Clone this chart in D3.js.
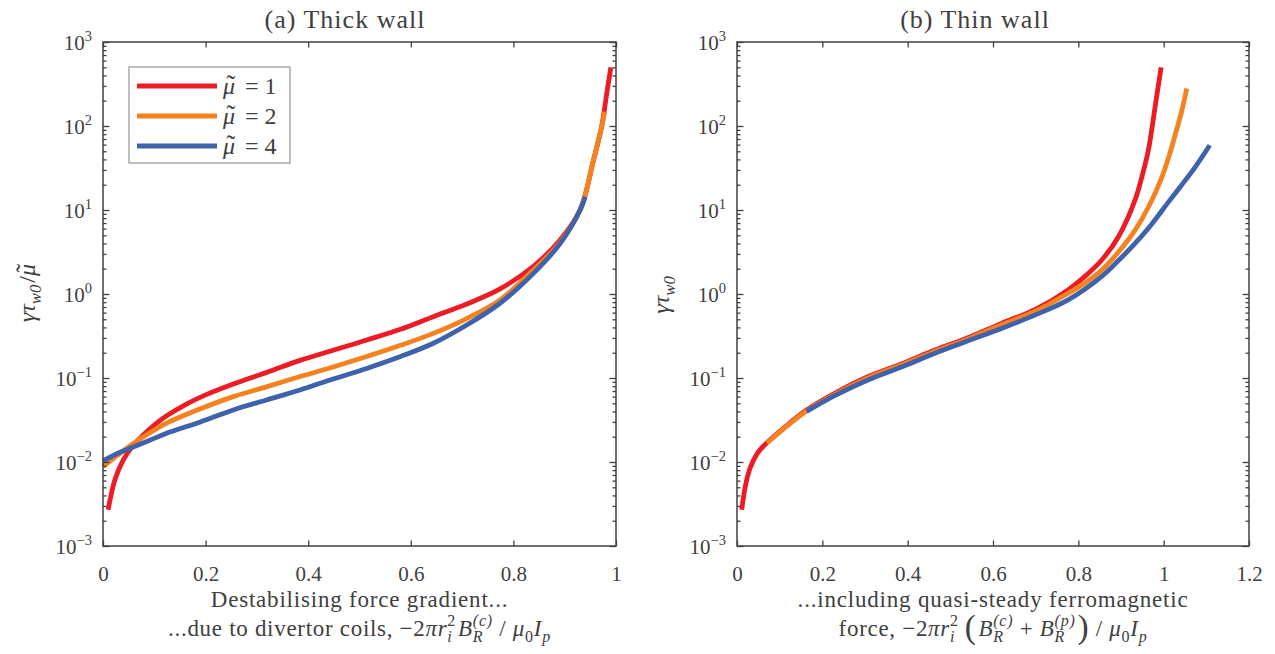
<!DOCTYPE html>
<html>
<head>
<meta charset="utf-8">
<script src="https://cdn.jsdelivr.net/npm/d3@7"></script>
<style>
  body { margin: 0; background: #fff; }
  text { font-family: "Liberation Serif", serif; fill: #404040; }
</style>
</head>
<body>
<script>
// ---- data: [x, growth rate] ----
var thickMu1 = [[0.01,0.0027],[0.0136,0.0035],[0.0234,0.0062],[0.0396,0.0106],[0.059,0.0158],[0.08,0.0214],
  [0.104,0.0288],[0.124,0.0355],[0.16,0.048],[0.2,0.063],[0.254,0.085],[0.32,0.117],[0.384,0.162],
  [0.45,0.215],[0.514,0.283],[0.58,0.38],[0.644,0.537],[0.709,0.76],[0.774,1.15],[0.839,2.14],
  [0.891,4.4],[0.93,10],[0.956,39],[0.972,98],[0.982,245],[0.99,500]];
var thickMu2 = [[0,0.0088],[0.02,0.011],[0.059,0.0166],[0.09,0.022],[0.124,0.029],[0.19,0.043],
  [0.254,0.060],[0.32,0.079],[0.384,0.104],[0.45,0.136],[0.514,0.18],[0.58,0.245],[0.644,0.34],
  [0.709,0.51],[0.774,0.85],[0.839,1.93],[0.891,4.1],[0.93,10],[0.956,39],[0.972,98],[0.978,148]];
var thickMu4 = [[0,0.0103],[0.03,0.0128],[0.059,0.0151],[0.09,0.018],[0.124,0.022],[0.19,0.030],
  [0.254,0.0417],[0.32,0.055],[0.384,0.072],[0.45,0.098],[0.514,0.13],[0.58,0.18],[0.644,0.259],
  [0.709,0.427],[0.774,0.776],[0.839,1.76],[0.891,3.98],[0.93,10],[0.94,14.4]];

var thinMu1 = [[0.011,0.0027],[0.021,0.0056],[0.032,0.0088],[0.0477,0.0127],[0.07,0.017],[0.11,0.0255],
  [0.163,0.0415],[0.23,0.066],[0.308,0.104],[0.39,0.15],[0.464,0.215],[0.54,0.30],[0.62,0.447],
  [0.698,0.65],[0.776,1.12],[0.82,1.7],[0.855,2.54],[0.894,4.8],[0.933,13.2],[0.95,26],[0.964,51],
  [0.98,170],[0.994,500]];
var thinMu2 = [[0.07,0.0168],[0.11,0.025],[0.163,0.0405],[0.23,0.064],[0.308,0.101],[0.39,0.146],
  [0.464,0.208],[0.54,0.29],[0.62,0.43],[0.698,0.62],[0.776,1.02],[0.82,1.4],[0.855,1.93],
  [0.894,3.16],[0.933,5.75],[0.965,11],[0.995,24],[1.015,48],[1.03,89],[1.042,148],[1.054,280]];
var thinMu4 = [[0.163,0.040],[0.23,0.062],[0.308,0.0955],[0.39,0.138],[0.464,0.197],[0.54,0.275],
  [0.62,0.389],[0.698,0.56],[0.776,0.85],[0.855,1.62],[0.894,2.5],[0.933,4.0],[0.97,6.6],
  [1.011,12.4],[1.04,19.2],[1.073,32],[1.108,59]];

var muLabels = ["1", "2", "4"];
var colors = ["#ed1c24", "#f5821f", "#3f62ad"];
var thickTicks = [0, 0.2, 0.4, 0.6, 0.8, 1];
var thinTicks = [0, 0.2, 0.4, 0.6, 0.8, 1, 1.2];
var decades = [1e-3, 1e-2, 1e-1, 1, 10, 100, 1000];
var exponents = ["\u22123", "\u22122", "\u22121", "0", "1", "2", "3"];

var W = 1275, H = 654;
var svg = d3.select("body").append("svg").attr("width", W).attr("height", H);

// writes a list of pieces into a text node; pieces with sub/sup get scripts,
// {tilde: "μ"} puts a tilde over an italic letter, {big: "("} is a tall bracket
function mathText(t, parts, fs) {
  var shift = 0, pending = 0;
  parts.forEach(function(p) {
    if (p.tilde) {
      var m = t.append("tspan").text(p.tilde).attr("font-style", "italic").attr("dy", -shift);
      if (pending) m.attr("dx", pending);
      shift = 0;
      var w = m.node().getComputedTextLength();
      var k = t.append("tspan").text("\u02dc").attr("font-size", fs * 1.1);
      var tw = k.node().getComputedTextLength();
      var off = fs * 0.08;
      k.attr("dx", -(w + tw) / 2 + off).attr("dy", -fs * 0.02);
      shift = -fs * 0.02;
      pending = (w - tw) / 2 - off;
      return;
    }
    if (p.big) {
      var bg = t.append("tspan").text(p.big).attr("font-size", fs * 1.45)
        .attr("font-weight", 300).attr("dy", -shift + fs * 0.1);
      bg.attr("dx", pending + (p.dx || 0));
      shift = fs * 0.1; pending = 0;
      return;
    }
    if (p.sub == null && p.sup == null) {
      var ts = t.append("tspan").text(p.t)
        .attr("font-style", p.i ? "italic" : null)
        .attr("dy", -shift);
      if (pending || p.dx) ts.attr("dx", pending + (p.dx || 0));
      shift = 0; pending = 0;
      return;
    }
    var w1 = 0, w2 = 0;
    if (p.sup != null) {
      var s = t.append("tspan").text(p.sup).attr("font-size", fs * 0.7)
        .attr("font-style", p.supi ? "italic" : null)
        .attr("dy", -shift - fs * 0.42);
      if (pending) s.attr("dx", pending);
      shift = -fs * 0.42; pending = 0;
      w1 = s.node().getComputedTextLength();
    }
    if (p.sub != null) {
      var b = t.append("tspan").text(p.sub).attr("font-size", fs * 0.7)
        .attr("font-style", p.subi === false ? null : "italic")
        .attr("dy", -shift + fs * 0.25);
      if (w1) b.attr("dx", -w1);
      else if (pending) b.attr("dx", pending);
      shift = fs * 0.25;
      w2 = b.node().getComputedTextLength();
    }
    pending = w1 > w2 && p.sub != null ? w1 - w2 : 0;
  });
}

function panel(opts) {
  var x = d3.scaleLinear().domain(opts.xDomain).range([opts.left, opts.right]);
  var y = d3.scaleLog().domain([1e-3, 1e3]).range([546, 42]);
  var g = svg.append("g");

  // curves
  var line = d3.line().x(function(d) { return x(d[0]); }).y(function(d) { return y(d[1]); })
    .curve(d3.curveCatmullRom.alpha(0.5));
  opts.series.forEach(function(s, i) {
    g.append("path").datum(s).attr("d", line)
      .attr("fill", "none").attr("stroke", colors[i]).attr("stroke-width", 4.8);
  });

  // ticks on all four sides, pointing inward
  var minor = y.ticks().filter(function(v) { return decades.indexOf(v) < 0; });
  function style(a) {
    a.select(".domain").remove();
    a.selectAll("line").attr("stroke", "#404040").attr("stroke-width", 1.3);
  }
  function bare(a) { style(a); a.selectAll("text").remove(); }
  g.append("g").attr("transform", "translate(0,546)")
    .call(d3.axisBottom(x).tickValues(opts.xTicks).tickSize(-5.5).tickPadding(20)
      .tickFormat(function(d) { return d; }))
    .call(style)
    .selectAll("text").attr("font-size", 21).attr("font-family", "Liberation Serif").attr("fill", "#404040");
  g.append("g").attr("transform", "translate(0,42)")
    .call(d3.axisTop(x).tickValues(opts.xTicks).tickSize(-5.5)).call(bare);
  [[d3.axisLeft, opts.left], [d3.axisRight, opts.right]].forEach(function(a) {
    g.append("g").attr("transform", "translate(" + a[1] + ",0)")
      .call(a[0](y).tickValues(decades).tickSize(-6.5)).call(bare);
    g.append("g").attr("transform", "translate(" + a[1] + ",0)")
      .call(a[0](y).tickValues(minor).tickSize(-3.5)).call(bare);
  });

  // decade labels
  decades.forEach(function(v, i) {
    var t = g.append("text").attr("x", opts.left - 11).attr("y", y(v) + 8)
      .attr("text-anchor", "end").attr("font-size", 21);
    t.append("tspan").text("10");
    t.append("tspan").text(exponents[i]).attr("font-size", 14.5).attr("dy", -9.5);
  });

  g.append("rect").attr("x", opts.left).attr("y", 42)
    .attr("width", opts.right - opts.left).attr("height", 504)
    .attr("fill", "none").attr("stroke", "#404040").attr("stroke-width", 1.5);

  // title
  g.append("text").attr("x", opts.titleX).attr("y", 28)
    .attr("text-anchor", "middle").attr("font-size", 26).attr("letter-spacing", 1)
    .text(opts.title);

  // y label
  var yl = g.append("text").attr("text-anchor", "middle").attr("font-size", 24)
    .attr("transform", "translate(" + opts.ylabX + "," + opts.ylabY + ") rotate(-90)");
  mathText(yl, opts.ylab, 24);

  // x label, two lines
  var cx = (opts.left + opts.right) / 2;
  g.append("text").attr("x", cx).attr("y", 607).attr("text-anchor", "middle")
    .attr("font-size", 23).attr("letter-spacing", 0.8).text(opts.xlab1);
  var xl = g.append("text").attr("x", cx).attr("y", 636).attr("text-anchor", "middle")
    .attr("font-size", 23).attr("letter-spacing", 0.7);
  mathText(xl, opts.xlab2, 23);
  return { x: x, y: y, g: g };
}

var mu = "\u03bc";
var left = panel({
  left: 103, right: 616, xDomain: [0, 1], xTicks: thickTicks, titleX: 345,
  series: [thickMu1, thickMu2, thickMu4], title: "(a) Thick wall", ylabX: 35, ylabY: 293,
  ylab: [{t: "\u03b3\u03c4", i: true}, {sub: "w0"}, {t: "/", dx: 2}, {tilde: mu}],
  xlab1: "Destabilising force gradient...",
  xlab2: [{t: "...due to divertor coils, \u22122"}, {t: "\u03c0r", i: true}, {sub: "i", sup: "2", subi: true},
    {t: "B", i: true, dx: 2}, {sub: "R", sup: "(c)", supi: true}, {t: " / "}, {t: "\u03bc", i: true},
    {sub: "0", subi: false}, {t: "I", i: true}, {sub: "p"}]
});

var right = panel({
  left: 737, right: 1249, xDomain: [0, 1.2], xTicks: thinTicks, titleX: 975,
  series: [thinMu1, thinMu2, thinMu4], title: "(b) Thin wall", ylabX: 669, ylabY: 295,
  ylab: [{t: "\u03b3\u03c4", i: true}, {sub: "w0"}],
  xlab1: "...including quasi-steady ferromagnetic",
  xlab2: [{t: "force, \u22122"}, {t: "\u03c0r", i: true}, {sub: "i", sup: "2", subi: true},
    {big: "(", dx: 6}, {t: "B", i: true, dx: 2}, {sub: "R", sup: "(c)", supi: true}, {t: " + "},
    {t: "B", i: true}, {sub: "R", sup: "(p)", supi: true}, {big: ")", dx: 2}, {t: " / "}, {t: "\u03bc", i: true},
    {sub: "0", subi: false}, {t: "I", i: true}, {sub: "p"}]
});

// legend in the left panel
var lg = left.g.append("g");
lg.append("rect").attr("x", 129).attr("y", 67).attr("width", 161).attr("height", 96)
  .attr("fill", "#fff").attr("stroke", "#808080").attr("stroke-width", 1);
muLabels.forEach(function(m, i) {
  var yy = 86 + i * 30;
  lg.append("line").attr("x1", 137).attr("x2", 217).attr("y1", yy).attr("y2", yy)
    .attr("stroke", colors[i]).attr("stroke-width", 4.8);
  var t = lg.append("text").attr("x", 223).attr("y", yy + 8).attr("font-size", 24);
  mathText(t, [{tilde: mu}, {t: " = " + m, dx: 4}], 24);
});
</script>
</body>
</html>
